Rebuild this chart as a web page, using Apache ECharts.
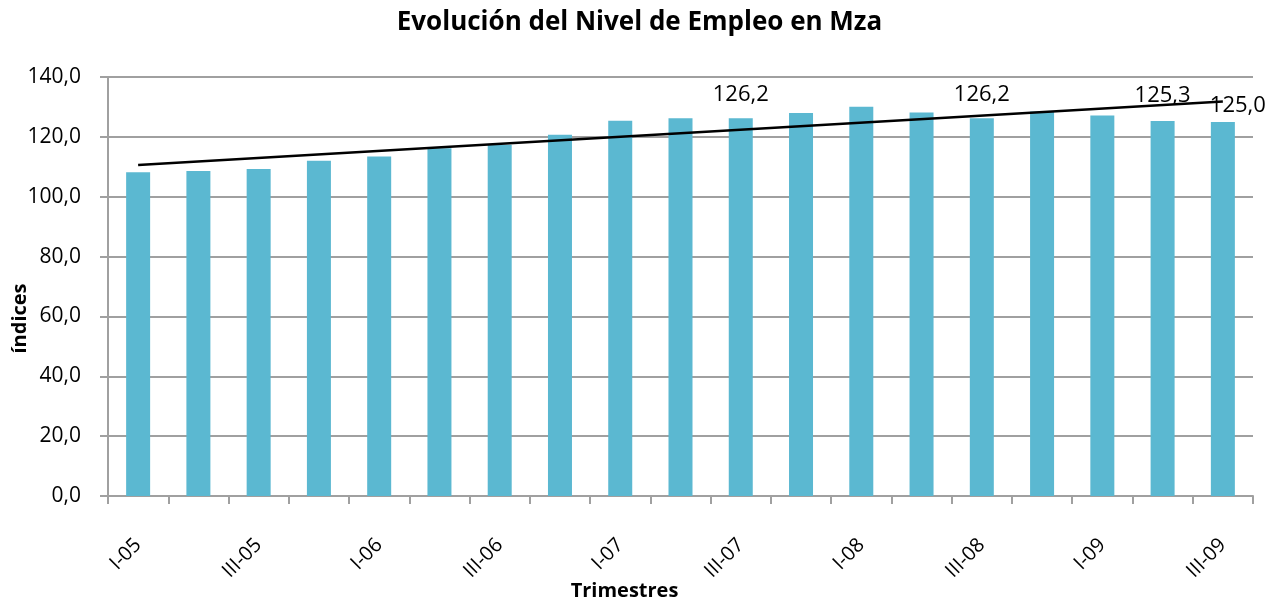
<!DOCTYPE html>
<html>
<head>
<meta charset="utf-8">
<script src="https://cdn.jsdelivr.net/npm/echarts@6/dist/echarts.min.js"></script>
<style>html,body{margin:0;padding:0;background:#fff}#c{width:1279px;height:602px}</style>
</head>
<body>
<div id="c"></div>
<script>
const categories = ['I-05','II-05','III-05','IV-05','I-06','II-06','III-06','IV-06','I-07','II-07','III-07','IV-07','I-08','II-08','III-08','IV-08','I-09','II-09','III-09'];
const values = [108.2,108.6,109.3,112.0,113.4,116.2,117.4,120.7,125.4,126.2,126.2,128.0,130.1,128.1,126.2,128.5,127.1,125.3,125.0];
const trend = [110.6,null,null,null,null,null,null,null,null,null,null,null,null,null,null,null,null,null,131.8];
const labeledIndex = [10,14,17,18];

const FONT = '"Open Sans", "Noto Sans", sans-serif';
const fmt = v => v.toFixed(1).replace('.', ',');
const labelCfg = {10:{distance:13,offset:[0,0]},14:{distance:13,offset:[0,0]},17:{distance:14,offset:[0,0]},18:{distance:5,offset:[15,0]}};

const barData = values.map((v,i) => {
  if (labeledIndex.indexOf(i) >= 0) {
    const c = labelCfg[i];
    return {value:v, label:{show:true, position:'top', distance:c.distance, offset:c.offset,
      formatter: p => fmt(p.value), fontSize:22, color:'#000', fontFamily:FONT}};
  }
  return v;
});

const chart = echarts.init(document.getElementById('c'));
chart.setOption({
  animation:false,
  title:{text:'Evolución del Nivel de Empleo en Mza', left:'center', top:5,
    textStyle:{fontSize:26, fontWeight:'bold', color:'#000', fontFamily:FONT}},
  grid:{left:108, right:26, top:77, bottom:106, outerBoundsMode:'none', containLabel:false},
  xAxis:{type:'category', data:categories, boundaryGap:true,
    name:'Trimestres', nameLocation:'middle', nameGap:85, nameMoveOverlap:false,
    nameTextStyle:{fontSize:20, fontWeight:'bold', color:'#000', fontFamily:FONT, padding:[0,112,0,0]},
    axisLine:{lineStyle:{color:'#A0A0A0', width:2}},
    axisTick:{show:true, interval:0, length:8, lineStyle:{color:'#A0A0A0', width:2}},
    axisLabel:{interval:1, rotate:45, margin:46, fontSize:20, color:'#000', fontFamily:FONT},
    splitLine:{show:false}},
  yAxis:{type:'value', min:0, max:140, interval:20,
    name:'índices', nameLocation:'middle', nameGap:78, nameRotate:90, nameMoveOverlap:false,
    nameTextStyle:{fontSize:20, fontWeight:'bold', color:'#000', fontFamily:FONT, padding:[0,64,0,0]},
    axisLine:{show:true, lineStyle:{color:'#A0A0A0', width:2}},
    axisTick:{show:true, length:8, lineStyle:{color:'#A0A0A0', width:2}},
    axisLabel:{formatter:fmt, fontSize:21, margin:27, color:'#000', fontFamily:FONT},
    splitLine:{lineStyle:{color:'#A0A0A0', width:2}}},
  series:[
    {type:'bar', data:barData, barWidth:24, itemStyle:{color:'#5BB8D1'}, z:2},
    {type:'line', data:trend, connectNulls:true, symbol:'none', lineStyle:{color:'#000', width:2.5}, z:3, silent:true}
  ]
});
</script>
</body>
</html>
